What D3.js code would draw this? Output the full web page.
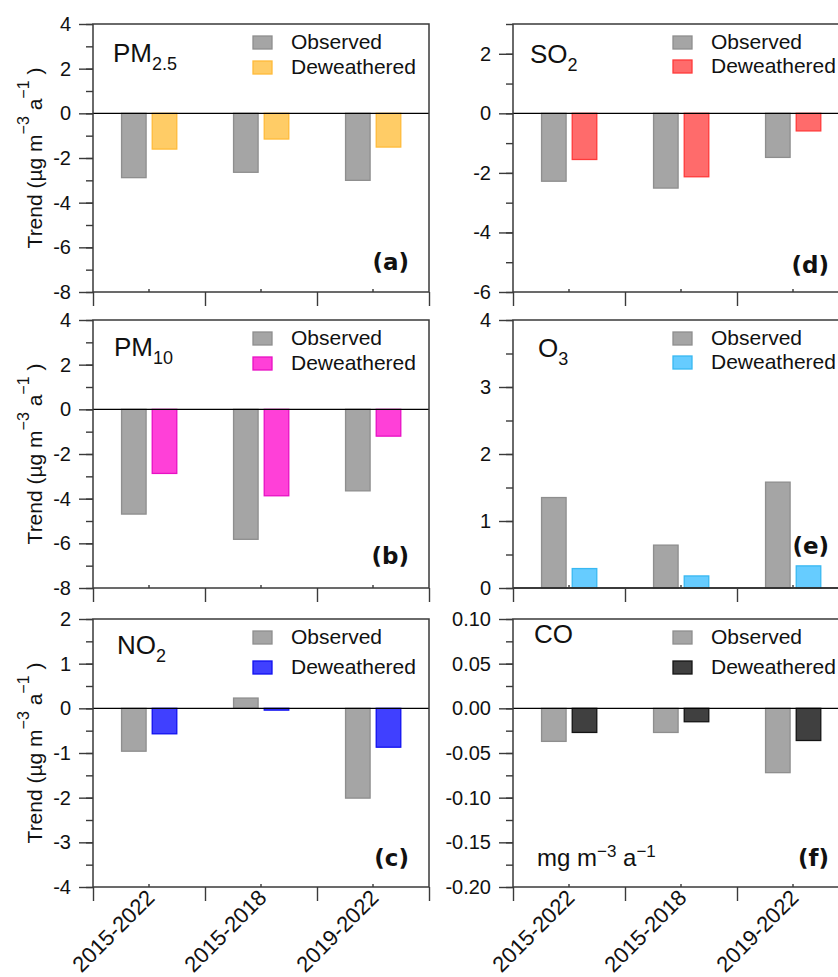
<!DOCTYPE html>
<html>
<head>
<meta charset="utf-8">
<script src="https://cdn.jsdelivr.net/npm/d3@7"></script>
<style>
  body { margin: 0; background: #fff; }
  svg { display: block; font-family: "Liberation Sans", Arial, sans-serif; }
</style>
</head>
<body>
<svg id="chart" width="838" height="977"></svg>
<script>
// periods on the x axis
const periods = ["2015-2022", "2015-2018", "2019-2022"];
const seriesNames = ["Observed", "Deweathered"];

// trends
const pm25Obs = [-2.88, -2.64, -3.0];
const pm25Dew = [-1.6, -1.15, -1.51];
const pm10Obs = [-4.69, -5.82, -3.65];
const pm10Dew = [-2.87, -3.87, -1.2];
const no2Obs = [-0.96, 0.23, -2.01];
const no2Dew = [-0.57, -0.04, -0.87];
const so2Obs = [-2.28, -2.51, -1.48];
const so2Dew = [-1.55, -2.13, -0.59];
const o3Obs = [1.35, 0.64, 1.58];
const o3Dew = [0.29, 0.18, 0.33];
const coObs = [-0.037, -0.027, -0.072];
const coDew = [-0.027, -0.015, -0.036];

// tick labels
const ticksPM = [-8, -6, -4, -2, 0, 2, 4];
const ticksNO2 = [-4, -3, -2, -1, 0, 1, 2];
const ticksSO2 = [-6, -4, -2, 0, 2];
const ticksO3 = [0, 1, 2, 3, 4];
const ticksCO = [-0.20, -0.15, -0.10, -0.05, 0.00, 0.05, 0.10];

const svg = d3.select("#chart");
const colX = [93, 513], panelW = 336;
const rowY = [24, 320, 619], panelH = 268;
const axisColor = "#3a3a3a";

const intFmt = d => String(d);
const coFmt = d => d.toFixed(2);

const panels = [
  { col: 0, row: 0, title: "PM", sub: "2.5", obs: pm25Obs, dew: pm25Dew, domain: [-8, 4], ticks: ticksPM, minor: 1, fmt: intFmt,
    fill: "#ffcc66", stroke: "#ffbb3a", letter: "(a)", tx: 20, ty: 38, lgap: 25, ly: 22 },
  { col: 0, row: 1, title: "PM", sub: "10", obs: pm10Obs, dew: pm10Dew, domain: [-8, 4], ticks: ticksPM, minor: 1, fmt: intFmt,
    fill: "#ff40d8", stroke: "#e810c4", letter: "(b)", tx: 21, ty: 36, lgap: 25, ly: 24 },
  { col: 0, row: 2, title: "NO", sub: "2", obs: no2Obs, dew: no2Dew, domain: [-4, 2], ticks: ticksNO2, minor: 0.5, fmt: intFmt,
    fill: "#4040ff", stroke: "#1010f0", letter: "(c)", tx: 24, ty: 35, lgap: 30, ly: 21 },
  { col: 1, row: 0, title: "SO", sub: "2", obs: so2Obs, dew: so2Dew, domain: [-6, 3], ticks: ticksSO2, minor: 1, fmt: intFmt,
    fill: "#ff6b6b", stroke: "#ff3a3a", letter: "(d)", tx: 17, ty: 39, lgap: 24, ly: 19 },
  { col: 1, row: 1, title: "O", sub: "3", obs: o3Obs, dew: o3Dew, domain: [0, 4], ticks: ticksO3, minor: 0.5, fmt: intFmt,
    fill: "#66ccff", stroke: "#38b8f2", letter: "(e)", tx: 25, ty: 37, lgap: 24, ly: 34 },
  { col: 1, row: 2, title: "CO", sub: "", obs: coObs, dew: coDew, domain: [-0.20, 0.10], ticks: ticksCO, minor: 0.025, fmt: coFmt,
    fill: "#404040", stroke: "#141414", letter: "(f)", tx: 21, ty: 24, lgap: 30, ly: 21, unit: true }
];

panels.forEach(p => {
  const x0 = colX[p.col], x1 = x0 + panelW;
  const y0 = rowY[p.row], y1 = y0 + panelH;
  const g = svg.append("g");

  const y = d3.scaleLinear().domain(p.domain).range([y1, y0]);
  const x = d3.scaleBand().domain(periods).range([x0, x1]);
  const bw = x.bandwidth();
  const xs = d3.scaleBand().domain(seriesNames).range([bw * 0.255, bw * 0.748]).paddingInner(0.2);
  const edge = d3.scaleLinear().domain([0, periods.length]).range([x0, x1]);

  // bars
  const rows = periods.map((per, i) => ({ per, vals: [p.obs[i], p.dew[i]] }));
  const grp = g.selectAll("g.grp").data(rows).join("g")
    .attr("transform", d => `translate(${x(d.per)},0)`);
  grp.selectAll("rect").data(d => d.vals.map((v, k) => ({ k, v }))).join("rect")
    .attr("x", d => xs(seriesNames[d.k]))
    .attr("width", xs.bandwidth())
    .attr("y", d => y(Math.max(0, d.v)))
    .attr("height", d => Math.abs(y(d.v) - y(0)))
    .attr("fill", d => d.k === 0 ? "#a5a5a5" : p.fill)
    .attr("stroke", d => d.k === 0 ? "#8e8e8e" : p.stroke)
    .attr("stroke-width", 1.3);

  // zero line
  g.append("line").attr("x1", x0).attr("x2", x1).attr("y1", y(0)).attr("y2", y(0))
    .attr("stroke", "#000").attr("stroke-width", 1.3);

  // frame
  g.append("rect").attr("x", x0).attr("y", y0).attr("width", panelW).attr("height", panelH)
    .attr("fill", "none").attr("stroke", axisColor).attr("stroke-width", 1.5);

  // y axis: major + minor
  const minorVals = d3.range(p.domain[0], p.domain[1] + p.minor / 2, p.minor);
  const yMinor = g.append("g").attr("transform", `translate(${x0},0)`)
    .call(d3.axisLeft(y).tickValues(minorVals).tickSize(7).tickFormat(""));
  const yMajor = g.append("g").attr("transform", `translate(${x0},0)`)
    .call(d3.axisLeft(y).tickValues(p.ticks).tickSize(14).tickPadding(8).tickFormat(p.fmt));
  [yMinor, yMajor].forEach(a => {
    a.select(".domain").remove();
    a.selectAll("line").attr("stroke", axisColor).attr("stroke-width", 1.4);
  });
  yMajor.selectAll("text").attr("font-size", 20).attr("fill", "#111").attr("font-family", "Liberation Sans, Arial, sans-serif");

  // x axis: group edges outward, group centres inward
  const xEdge = g.append("g").attr("transform", `translate(0,${y1})`)
    .call(d3.axisBottom(edge).tickValues(d3.range(periods.length + 1)).tickSize(14).tickFormat(""));
  const xMid = g.append("g").attr("transform", `translate(0,${y1})`)
    .call(d3.axisBottom(x).tickSizeInner(-3).tickSizeOuter(0).tickFormat(p.row === 2 ? d => d : ""));
  [xEdge, xMid].forEach(a => {
    a.select(".domain").remove();
    a.selectAll("line").attr("stroke", axisColor).attr("stroke-width", 1.4);
  });
  if (p.row === 2) {
    xMid.selectAll("text")
      .attr("font-size", 22).attr("fill", "#111").attr("font-family", "Liberation Sans, Arial, sans-serif")
      .attr("text-anchor", "end").attr("dy", null).attr("y", 0)
      .attr("transform", "translate(7,12) rotate(-45)");
  }

  // title with subscript
  const t = g.append("text").attr("x", x0 + p.tx).attr("y", y0 + p.ty)
    .attr("font-size", 26).attr("fill", "#111");
  t.append("tspan").text(p.title);
  if (p.sub) t.append("tspan").attr("dy", 8).attr("font-size", 18).text(p.sub);

  // legend
  const lg = g.append("g").attr("transform", `translate(${x0 + 160},${y0 + 12})`);
  seriesNames.forEach((s, k) => {
    lg.append("rect").attr("x", 0).attr("y", k * p.lgap).attr("width", 19).attr("height", 13)
      .attr("fill", k === 0 ? "#a5a5a5" : p.fill)
      .attr("stroke", k === 0 ? "#8e8e8e" : p.stroke).attr("stroke-width", 1.3);
    lg.append("text").attr("x", 38).attr("y", k * p.lgap + 13)
      .attr("font-size", 21).attr("fill", "#111").text(s);
  });

  // panel letter
  g.append("text").attr("x", x1 - 20).attr("y", y1 - p.ly)
    .attr("text-anchor", "end").attr("font-size", 23).attr("font-weight", "bold")
    .attr("font-family", "DejaVu Sans, sans-serif").attr("fill", "#111").text(p.letter);

  // unit note for CO
  if (p.unit) {
    const u = g.append("text").attr("x", x0 + 24).attr("y", y1 - 21)
      .attr("font-size", 24).attr("fill", "#111");
    u.append("tspan").text("mg m");
    u.append("tspan").attr("dy", -9).attr("font-size", 17).text("−3");
    u.append("tspan").attr("dy", 9).text(" a");
    u.append("tspan").attr("dy", -9).attr("font-size", 17).text("−1");
  }

  // y-axis title on the left column
  if (p.col === 0) {
    const yt = g.append("text")
      .attr("transform", `translate(42,${(y0 + y1) / 2}) rotate(-90)`)
      .attr("text-anchor", "middle").attr("font-size", 21).attr("fill", "#111");
    yt.append("tspan").text("Trend (µg m");
    yt.append("tspan").attr("dy", -13).attr("font-size", 16).text("−3");
    yt.append("tspan").attr("dy", 13).text(" a");
    yt.append("tspan").attr("dy", -13).attr("font-size", 16).text("−1");
    yt.append("tspan").attr("dy", 13).text(" )");
  }
});
</script>
</body>
</html>
